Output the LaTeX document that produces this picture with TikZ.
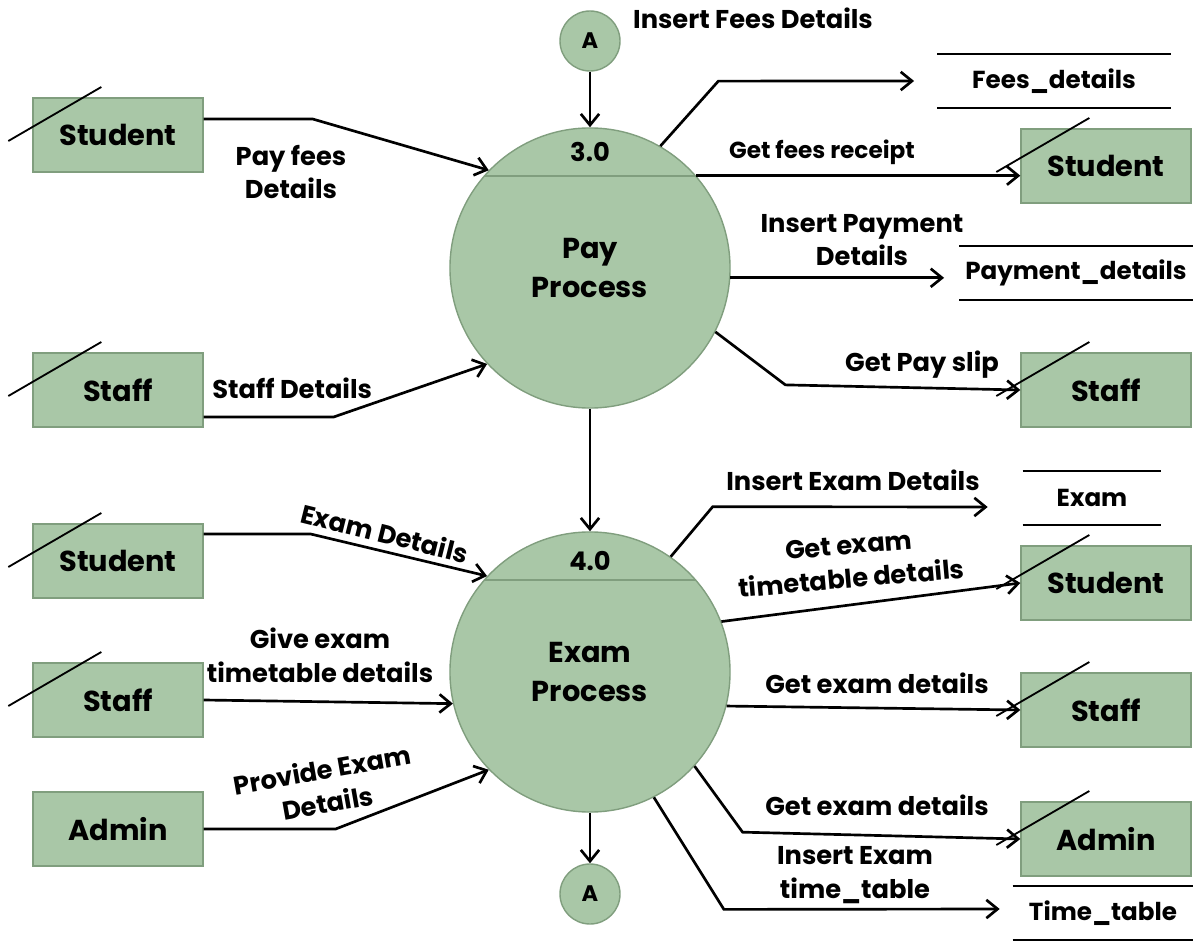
\documentclass[tikz,border=0pt]{standalone}
\usepackage{fontspec}
\setmainfont{Poppins}
\usetikzlibrary{arrows.meta,calc}

\definecolor{boxfill}{RGB}{169,199,167}
\definecolor{boxline}{RGB}{128,158,126}

\tikzset{
  entity/.style={draw=boxline, fill=boxfill, line width=0.9pt, minimum width=4.25cm, minimum height=1.85cm, font=\bfseries\fontsize{20.5}{24}\selectfont},
  proc/.style={circle, draw=boxline, fill=boxfill, line width=1pt, minimum size=7cm, inner sep=0pt, align=center, font=\bfseries\fontsize{20.5}{28}\selectfont},
  conn/.style={circle, draw=boxline, fill=boxfill, line width=1pt, minimum size=1.5cm, inner sep=0pt, font=\bfseries\fontsize{16}{18}\selectfont},
  store/.style={minimum height=1.33cm, inner sep=0pt, font=\bfseries\fontsize{17.5}{20}\selectfont},
  flow/.style={line width=1.9pt, ->},
  lbl/.style={align=center, inner sep=0pt, font=\bfseries\fontsize{18.3}{24}\selectfont},
}

\begin{document}
\begin{tikzpicture}[x=0.025cm, y=-0.025cm, >={Straight Barb[length=8pt,width=13pt]}]
    \useasboundingbox (0,0) rectangle (1193,951);

    % processes
    \node[proc] (pay) at (590,268) {Pay\\Process};
    \node[proc] (exam) at (590,672) {Exam\\Process};
    \draw[boxline, line width=1.6pt] (pay.41) -- (pay.139);
    \draw[boxline, line width=1.6pt] (exam.41) -- (exam.139);
    \node[lbl] (payno) at (590,152) {3.0};
    \node[lbl] (examno) at (590,561) {4.0};

    % connectors A
    \node[conn] (topA) at (590,41) {A};
    \node[conn] (botA) at (590,894) {A};

    % external entities, left
    \node[entity] (stuL1) at (118,135) {Student};
    \node[entity] (stfL1) at (118,390) {Staff};
    \node[entity] (stuL2) at (118,561) {Student};
    \node[entity] (stfL2) at (118,700) {Staff};
    \node[entity] (admL) at (118,829) {Admin};

    % external entities, right
    \node[entity] (stuR1) at (1106,166) {Student};
    \node[entity] (stfR1) at (1106,390) {Staff};
    \node[entity] (stuR2) at (1106,583) {Student};
    \node[entity] (stfR2) at (1106,710) {Staff};
    \node[entity] (admR) at (1106,839) {Admin};

    % duplicate marks
    \foreach \e in {stuL1,stfL1,stuL2,stfL2,stuR1,stfR1,stuR2,stfR2,admR}
      \draw[line width=1.3pt] (\e.west) ++(-24,6) -- ++(93,-54);

    % data stores
    \node[store, minimum width=5.83cm] (fees) at (1054,81) {Fees\_details};
    \node[store, minimum width=5.83cm] (paym) at (1076,273) {Payment\_details};
    \node[store, minimum width=3.45cm] (exst) at (1092,498) {Exam};
    \node[store, minimum width=4.5cm] (ttab) at (1103,913) {Time\_table};
    \foreach \s in {fees,paym,exst,ttab}
      \draw[line width=1.9pt] (\s.north west) -- (\s.north east) (\s.south west) -- (\s.south east);

    % flows into pay process
    \draw[flow] ($(stuL1.east)+(0,-16)$) -- ++(109,0) -- (pay.136);
    \node[lbl] (l1) at (291,172) {Pay fees\\Details};
    \draw[flow] ($(stfL1.east)+(0,27)$) -- ++(130,0) -- (pay.223);
    \node[lbl, anchor=west] (l2) at (212,388) {Staff Details};
    \draw[flow] (topA) -- (pay);

    % flows out of pay process
    \draw[flow] (pay.60) -- ++(58,-65) -- ($(fees.west)+(-23,0)$);
    \node[lbl] (l3) at (753,18) {Insert Fees Details};
    \draw[flow] (pay.41) -- (pay.41 -| stuR1.west);
    \node[lbl, font=\bfseries\fontsize{16.5}{18}\selectfont] (l4) at (822,152) {Get fees receipt};
    \draw[flow] (pay.-4) -- ($(pay.-4 -| paym.west)+(-15,0)$);
    \node[lbl] (l5) at (862,240) {Insert Payment\\Details};
    \draw[flow] (pay.-27) -- ++(70,53) -- (stfR1.west);
    \node[lbl] (l6) at (922,365) {Get Pay slip};
    \draw[flow] (pay) -- (exam);

    % flows into exam process
    \draw[flow] ($(stuL2.east)+(0,-27)$) -- ++(107,0) -- (exam.137);
    \node[lbl, rotate=-14] (l7) at (385,533) {Exam Details};
    \draw[flow] (stfL2.east) -- (exam.193);
    \node[lbl] (l8) at (320,655) {Give exam\\timetable details};
    \draw[flow] (admL.east) -- ++(132,0) -- (exam.224);
    \node[lbl, rotate=10] (l9) at (325,786) {Provide Exam\\Details};

    % flows out of exam process
    \draw[flow] (exam.55) -- ++(42,-50) -- ($(exst.west)+(-35,9)$);
    \node[lbl] (l10) at (853,480) {Insert Exam Details};
    \draw[flow] (exam.21) -- (stuR2.west);
    \node[lbl, rotate=5] (l11) at (850,562) {Get exam\\timetable details};
    \draw[flow] (exam.-14) -- (stfR2.west);
    \node[lbl] (l12) at (877,683) {Get exam details};
    \draw[flow] (exam.-42) -- ++(48,66) -- (admR.west);
    \node[lbl] (l13) at (877,805) {Get exam details};
    \draw[flow] (exam.-63) -- ++(70,112) -- ($(ttab.west)+(-13,-4)$);
    \node[lbl] (l14) at (855,875) {Insert Exam\\time\_table};
    \draw[flow] (exam) -- (botA);
\end{tikzpicture}
\end{document}
